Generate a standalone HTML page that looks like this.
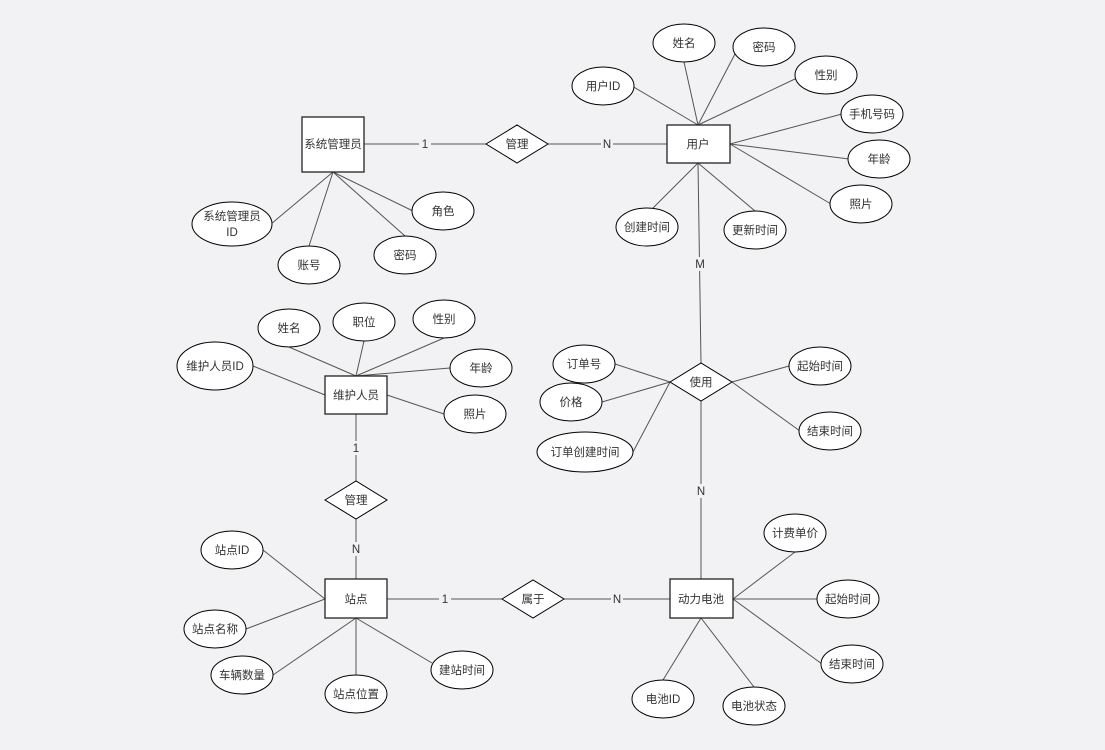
<!DOCTYPE html>
<html><head><meta charset="utf-8"><style>
html,body{margin:0;padding:0;background:#f2f2f4;}
svg{display:block;}
text{font-family:"Liberation Sans","Noto Sans CJK SC",sans-serif;font-size:11.5px;fill:#333;text-anchor:middle;dominant-baseline:central;transform:translateY(1px);}
.l{stroke:#555;stroke-width:1;fill:none;}
.e{fill:#fff;stroke:#000;stroke-width:1;}
.r{fill:#fff;stroke:#222;stroke-width:1.3;}
.lb{fill:#f2f2f4;}
</style></head><body>
<svg width="1105" height="750" viewBox="0 0 1105 750">
<g class="l">
<line x1="684" y1="62" x2="698" y2="125"/><line x1="736" y1="52" x2="698" y2="125"/>
<line x1="632" y1="86" x2="698" y2="125"/><line x1="797" y1="78" x2="698" y2="125"/>
<line x1="842" y1="114" x2="730" y2="144"/><line x1="849" y1="159" x2="730" y2="144"/>
<line x1="831" y1="204" x2="730" y2="144"/><line x1="652" y1="209" x2="698" y2="163"/>
<line x1="755" y1="211" x2="698" y2="163"/>
<line x1="271" y1="224" x2="333" y2="172"/><line x1="309" y1="246" x2="333" y2="172"/>
<line x1="405" y1="236" x2="333" y2="172"/><line x1="413" y1="211" x2="333" y2="172"/>
<line x1="289" y1="347" x2="356" y2="376"/><line x1="364" y1="341" x2="356" y2="376"/>
<line x1="444" y1="338" x2="356" y2="376"/><line x1="450" y1="368" x2="356" y2="376"/>
<line x1="253" y1="366" x2="325" y2="395"/><line x1="444" y1="414" x2="387" y2="395"/>
<line x1="615" y1="364" x2="670" y2="382"/><line x1="602" y1="402" x2="670" y2="382"/>
<line x1="633" y1="452" x2="670" y2="382"/><line x1="789" y1="366" x2="732" y2="382"/>
<line x1="800" y1="431" x2="732" y2="382"/>
<line x1="263" y1="550" x2="325" y2="599"/><line x1="246" y1="629" x2="325" y2="599"/>
<line x1="273" y1="675" x2="356" y2="618"/><line x1="356" y1="675" x2="356" y2="618"/>
<line x1="432" y1="663" x2="356" y2="618"/>
<line x1="795" y1="552" x2="733" y2="599"/><line x1="817" y1="599" x2="733" y2="599"/>
<line x1="822" y1="664" x2="733" y2="599"/><line x1="663" y1="680" x2="701" y2="618"/>
<line x1="754" y1="687" x2="701" y2="618"/>
<line x1="364" y1="144" x2="486" y2="144"/><line x1="548" y1="144" x2="667" y2="144"/>
<line x1="698" y1="163" x2="701" y2="363"/><line x1="701" y1="401" x2="701" y2="579"/>
<line x1="356" y1="414" x2="356" y2="481"/><line x1="356" y1="519" x2="356" y2="579"/>
<line x1="387" y1="599" x2="502" y2="599"/><line x1="564" y1="599" x2="670" y2="599"/>
</g>
<g>
<rect class="lb" x="419" y="137" width="12" height="14"/><text x="425" y="144">1</text>
<rect class="lb" x="601" y="137" width="12" height="14"/><text x="607" y="144">N</text>
<rect class="lb" x="693" y="257" width="14" height="14"/><text x="700" y="264">M</text>
<rect class="lb" x="695" y="484" width="12" height="14"/><text x="701" y="491">N</text>
<rect class="lb" x="350" y="441" width="12" height="14"/><text x="356" y="448">1</text>
<rect class="lb" x="350" y="542" width="12" height="14"/><text x="356" y="549">N</text>
<rect class="lb" x="439" y="592" width="12" height="14"/><text x="445" y="599">1</text>
<rect class="lb" x="611" y="592" width="12" height="14"/><text x="617" y="599">N</text>
</g>
<rect class="r" x="302" y="117" width="62" height="55"/><text x="333" y="144">系统管理员</text>
<rect class="r" x="667" y="125" width="63" height="38"/><text x="698" y="144">用户</text>
<rect class="r" x="325" y="376" width="62" height="38"/><text x="356" y="395">维护人员</text>
<rect class="r" x="325" y="579" width="62" height="39"/><text x="356" y="599">站点</text>
<rect class="r" x="670" y="579" width="63" height="39"/><text x="701" y="599">动力电池</text>
<polygon class="e" points="486,144 517,125 548,144 517,163"/><text x="517" y="144">管理</text>
<polygon class="e" points="670,382 701,363 732,382 701,401"/><text x="701" y="382">使用</text>
<polygon class="e" points="325,500 356,481 387,500 356,519"/><text x="356" y="500">管理</text>
<polygon class="e" points="502,599 533,580 564,599 533,618"/><text x="533" y="599">属于</text>
<g>
<ellipse class="e" cx="684" cy="43" rx="31" ry="19"/><text x="684" y="43">姓名</text>
<ellipse class="e" cx="764" cy="47" rx="31" ry="19"/><text x="764" y="47">密码</text>
<ellipse class="e" cx="603" cy="86" rx="31" ry="19"/><text x="603" y="86">用户ID</text>
<ellipse class="e" cx="826" cy="75" rx="31" ry="19"/><text x="826" y="75">性别</text>
<ellipse class="e" cx="872" cy="114" rx="31" ry="19"/><text x="872" y="114">手机号码</text>
<ellipse class="e" cx="879" cy="159" rx="31" ry="19"/><text x="879" y="159">年龄</text>
<ellipse class="e" cx="861" cy="204" rx="31" ry="19"/><text x="861" y="204">照片</text>
<ellipse class="e" cx="647" cy="227" rx="31" ry="19"/><text x="647" y="227">创建时间</text>
<ellipse class="e" cx="755" cy="230" rx="31" ry="19"/><text x="755" y="230">更新时间</text>
<ellipse class="e" cx="232" cy="224" rx="40" ry="22"/><text x="232" y="216">系统管理员</text><text x="232" y="232">ID</text>
<ellipse class="e" cx="309" cy="265" rx="31" ry="19"/><text x="309" y="265">账号</text>
<ellipse class="e" cx="405" cy="255" rx="31" ry="19"/><text x="405" y="255">密码</text>
<ellipse class="e" cx="443" cy="211" rx="31" ry="19"/><text x="443" y="211">角色</text>
<ellipse class="e" cx="289" cy="328" rx="31" ry="19"/><text x="289" y="328">姓名</text>
<ellipse class="e" cx="364" cy="322" rx="31" ry="19"/><text x="364" y="322">职位</text>
<ellipse class="e" cx="444" cy="319" rx="31" ry="19"/><text x="444" y="319">性别</text>
<ellipse class="e" cx="215" cy="366" rx="38" ry="24"/><text x="215" y="366">维护人员ID</text>
<ellipse class="e" cx="481" cy="368" rx="31" ry="19"/><text x="481" y="368">年龄</text>
<ellipse class="e" cx="475" cy="414" rx="31" ry="19"/><text x="475" y="414">照片</text>
<ellipse class="e" cx="584" cy="364" rx="31" ry="19"/><text x="584" y="364">订单号</text>
<ellipse class="e" cx="571" cy="402" rx="31" ry="19"/><text x="571" y="402">价格</text>
<ellipse class="e" cx="585" cy="452" rx="48" ry="20"/><text x="585" y="452">订单创建时间</text>
<ellipse class="e" cx="820" cy="366" rx="31" ry="19"/><text x="820" y="366">起始时间</text>
<ellipse class="e" cx="830" cy="431" rx="31" ry="19"/><text x="830" y="431">结束时间</text>
<ellipse class="e" cx="232" cy="550" rx="31" ry="19"/><text x="232" y="550">站点ID</text>
<ellipse class="e" cx="215" cy="629" rx="31" ry="19"/><text x="215" y="629">站点名称</text>
<ellipse class="e" cx="242" cy="675" rx="31" ry="19"/><text x="242" y="675">车辆数量</text>
<ellipse class="e" cx="356" cy="694" rx="31" ry="19"/><text x="356" y="694">站点位置</text>
<ellipse class="e" cx="462" cy="670" rx="31" ry="19"/><text x="462" y="670">建站时间</text>
<ellipse class="e" cx="795" cy="533" rx="31" ry="19"/><text x="795" y="533">计费单价</text>
<ellipse class="e" cx="848" cy="599" rx="31" ry="19"/><text x="848" y="599">起始时间</text>
<ellipse class="e" cx="852" cy="664" rx="31" ry="19"/><text x="852" y="664">结束时间</text>
<ellipse class="e" cx="663" cy="699" rx="31" ry="19"/><text x="663" y="699">电池ID</text>
<ellipse class="e" cx="754" cy="706" rx="31" ry="19"/><text x="754" y="706">电池状态</text>
</g>
</svg>
</body></html>
